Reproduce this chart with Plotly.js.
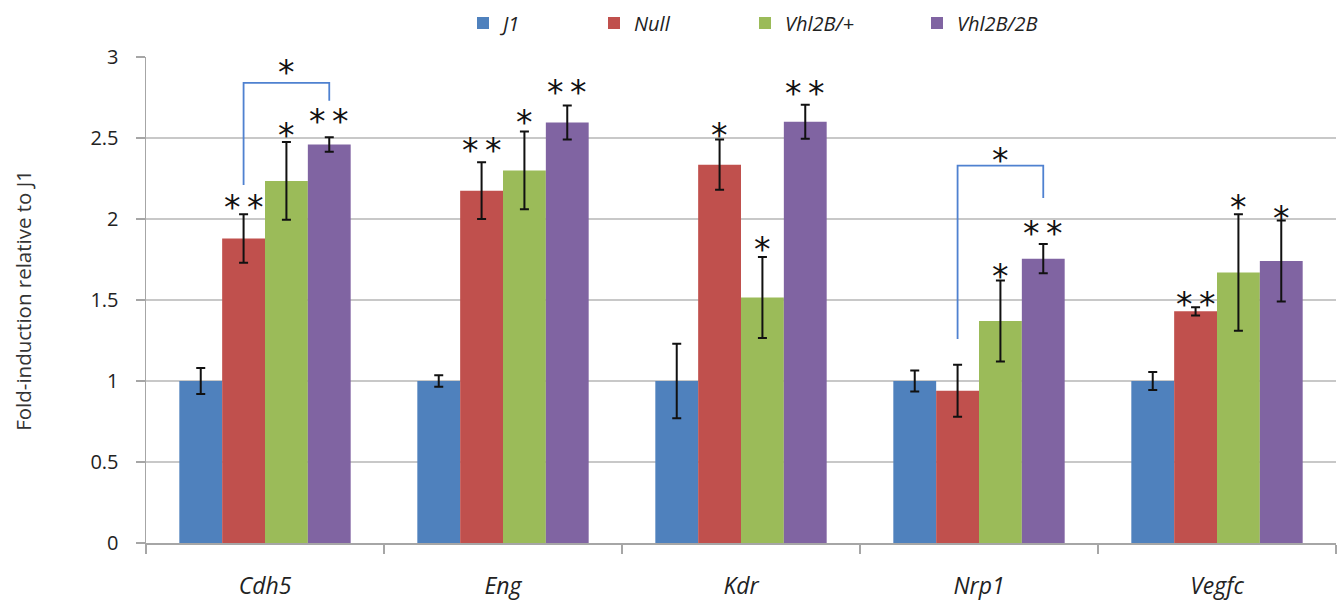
<!DOCTYPE html>
<html>
<head>
<meta charset="utf-8">
<script src="https://cdn.plot.ly/plotly-3.0.1.min.js"></script>
<style>html,body{margin:0;padding:0;background:#fff;}#chart{width:1342px;height:606px;}</style>
</head>
<body>
<div id="chart"></div>
<script>
// ---- data ----
const genes = ["Cdh5", "Eng", "Kdr", "Nrp1", "Vegfc"];
const seriesNames = ["J1", "Null", "Vhl2B/+", "Vhl2B/2B"];

const j1      = [1.00, 1.00, 1.00, 1.00, 1.00];
const j1Err   = [0.08, 0.035, 0.23, 0.065, 0.055];
const nul     = [1.88, 2.175, 2.335, 0.94, 1.43];
const nulErr  = [0.15, 0.175, 0.155, 0.16, 0.025];
const het     = [2.235, 2.30, 1.515, 1.37, 1.67];
const hetErr  = [0.24, 0.24, 0.25, 0.25, 0.36];
const hom     = [2.46, 2.595, 2.60, 1.755, 1.74];
const homErr  = [0.045, 0.105, 0.105, 0.09, 0.25];

// significance marks: gene index, series index, label, y
const starGene   = [0, 0, 0, 1, 1, 1, 2, 2, 2, 3, 3, 4, 4, 4];
const starSeries = [1, 2, 3, 1, 2, 3, 1, 2, 3, 2, 3, 1, 2, 3];
const starText   = ["**", "*", "**", "**", "*", "**", "*", "*", "**", "*", "**", "**", "*", "*"];
const starY      = [2.105, 2.55, 2.64, 2.46, 2.63, 2.815, 2.55, 1.85, 2.81, 1.685, 1.95, 1.51, 2.105, 2.04];

// comparison brackets (Null vs Vhl2B/2B): gene index, left end, right end, top, star y
const brGene  = [0, 3];
const brLeft  = [2.21, 1.26];
const brRight = [2.73, 2.13];
const brTop   = [2.84, 2.33];
const brStarY = [2.94, 2.40];

const yTitle = "Fold-induction relative to J1";

const colors = ["#4F81BD", "#C0504D", "#9BBB59", "#8064A2"];
const values = [j1, nul, het, hom];
const errs = [j1Err, nulErr, hetErr, homErr];

const bargap = 0.28;
const barW = (1 - bargap) / 4;
const off = s => (s - 1.5) * barW;

// legend entry positions (marker centres, px) as in the reference
const legendMarkerPx = [475, 606, 757, 929];
const plotLeft = 146, plotWidth = 1190;

const traces = seriesNames.map((name, s) => ({
  type: "bar",
  name: name,
  x: genes,
  y: values[s],
  legend: s === 0 ? "legend" : "legend" + (s + 1),
  marker: {color: colors[s]},
  error_y: {type: "data", array: errs[s], visible: true, color: "#111", thickness: 2, width: 4.5},
  hoverinfo: "y"
}));

const starFont = {family: "DejaVu Sans, sans-serif", size: 33, color: "#111"};
const annotations = starText.map((t, k) => ({
  x: starGene[k] + off(starSeries[k]),
  y: starY[k],
  xref: "x", yref: "y",
  text: t.split("").join("\u2009"),
  showarrow: false,
  yanchor: "middle",
  yshift: -6,
  font: starFont
}));

const shapes = [];
brGene.forEach((g, k) => {
  const xl = g + off(1), xr = g + off(3);
  shapes.push({
    type: "path", xref: "x", yref: "y",
    path: `M ${xl},${brLeft[k]} L ${xl},${brTop[k]} L ${xr},${brTop[k]} L ${xr},${brRight[k]}`,
    line: {color: "#4F81D0", width: 1.8}
  });
  annotations.push({
    x: g + (off(1) + off(3)) / 2, y: brStarY[k], xref: "x", yref: "y",
    text: "*", showarrow: false, yanchor: "middle", yshift: -6,
    font: starFont
  });
});

// y-axis title placed as rotated text left of the tick labels
annotations.push({
  xref: "paper", yref: "paper", x: -0.1035, y: 0.5,
  xanchor: "center", yanchor: "middle",
  text: yTitle, textangle: -90, showarrow: false,
  font: {family: "Open Sans, sans-serif", size: 20.5, color: "#333"}
});

const legendBase = {
  orientation: "h", xanchor: "left", y: 1.07, yanchor: "middle",
  font: {size: 20, color: "#222", style: "italic"},
  itemwidth: 30, bgcolor: "rgba(0,0,0,0)"
};

const layout = {
  width: 1342, height: 606,
  margin: {l: plotLeft, r: 6, t: 57, b: 63, autoexpand: false},
  paper_bgcolor: "#fff", plot_bgcolor: "#fff",
  barmode: "group", bargap: bargap, bargroupgap: 0,
  font: {family: "Open Sans, sans-serif", color: "#222"},
  showlegend: true,
  xaxis: {
    type: "category",
    showline: true, linecolor: "#a6a6a6", linewidth: 1.5,
    ticks: "outside", tickson: "boundaries", ticklen: 9, tickcolor: "#a6a6a6", tickwidth: 1.5,
    tickfont: {size: 23, color: "#222", style: "italic"},
    ticklabelstandoff: 22,
    showgrid: false, zeroline: false
  },
  yaxis: {
    range: [0, 3], dtick: 0.5,
    showline: true, linecolor: "#a6a6a6", linewidth: 1.5,
    ticks: "outside", ticklen: 9, tickcolor: "#a6a6a6", tickwidth: 1.5,
    tickfont: {size: 20, color: "#222"},
    ticklabelstandoff: 13,
    showgrid: true, gridcolor: "#c8c8c8", gridwidth: 1.5,
    zeroline: false
  },
  shapes: shapes,
  annotations: annotations
};
legendMarkerPx.forEach((px, s) => {
  const key = s === 0 ? "legend" : "legend" + (s + 1);
  layout[key] = Object.assign({}, legendBase, {x: (px - plotLeft - 12) / plotWidth});
});

Plotly.newPlot("chart", traces, layout, {displayModeBar: false, staticPlot: true});
</script>
</body>
</html>
